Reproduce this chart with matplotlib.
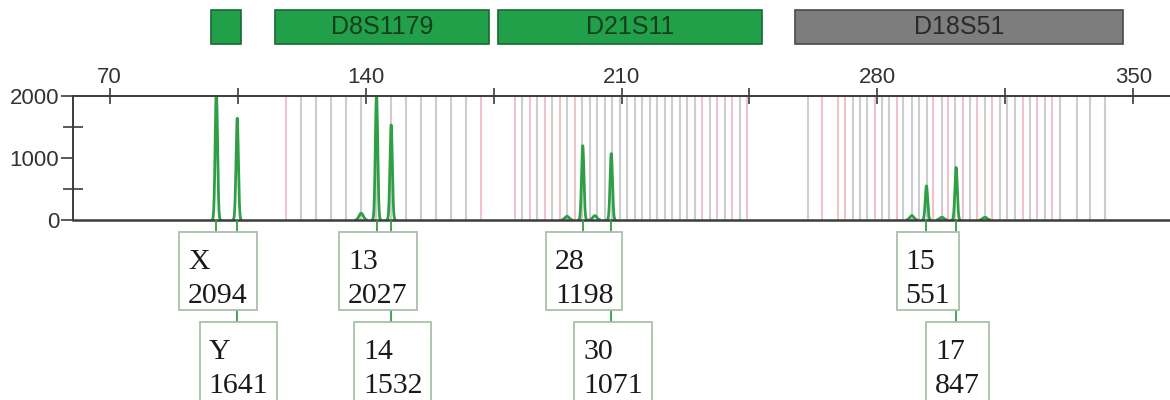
import numpy as np
import matplotlib
matplotlib.use("Agg")
import matplotlib.pyplot as plt
from matplotlib.patches import Rectangle
import matplotlib.transforms as mtransforms

# ---------------- data ----------------
marker_names = ["", "D8S1179", "D21S11", "D18S51"]
marker_starts = [97.7, 115.2, 176.2, 257.4]
marker_ends = [105.9, 173.7, 248.4, 347.1]
marker_kind = ["green", "green", "green", "gray"]

allele_labels = ["X", "Y", "13", "14", "28", "30", "15", "17"]
allele_sizes = [99.2, 104.9, 143.0, 147.0, 199.4, 207.2, 293.4, 301.5]
allele_heights = [2094, 1641, 2027, 1532, 1198, 1071, 551, 847]
label_rows = [0, 1, 0, 1, 0, 1, 0, 1]

minor_peak_sizes = [138.8, 195.1, 202.7, 289.4, 297.6, 309.4]
minor_peak_heights = [110, 60, 70, 70, 45, 45]

bins_d8 = [118.2, 122.3, 126.4, 130.5, 134.7, 138.8, 142.9, 147.0, 151.1,
           155.2, 159.3, 163.4, 167.5, 171.6]
bins_d8_pink = [1, 0, 0, 0, 0, 0, 0, 0, 0, 0, 0, 0, 0, 1]

bins_d21 = [180.9, 182.9, 185.0, 187.0, 189.1, 191.1, 193.2, 195.2, 197.3,
            199.3, 201.4, 203.4, 205.5, 207.5, 209.6, 211.6, 213.7, 215.7,
            217.8, 219.8, 221.9, 223.9, 226.0, 228.0, 230.1, 232.1, 234.2,
            236.2, 238.3, 240.3, 242.4, 244.4]
bins_d21_pink = [1, 0, 1, 0, 1, 0, 1, 0, 1, 0, 0, 0, 0, 0, 0, 0, 0, 0,
                 0, 0, 0, 0, 0, 0, 0, 1, 0, 1, 0, 1, 0, 1]

bins_d18 = [261.0, 264.8, 269.2, 271.1, 273.3, 275.2, 277.1, 279.3, 281.2,
            283.1, 285.3, 287.0, 289.4, 291.3, 293.5, 295.2, 297.6, 299.3,
            301.2, 303.4, 305.3, 307.2, 309.4, 311.3, 313.5, 315.4, 317.6,
            319.8, 321.7, 323.6, 325.8, 327.7, 329.9, 334.5, 338.1, 342.2]
bins_d18_pink = [0, 1, 1, 1, 0, 0, 0, 1, 0, 0, 1, 0, 0, 0, 0, 1, 0, 1,
                 0, 1, 0, 1, 0, 1, 0, 0, 0, 1, 0, 1, 0, 1, 0, 0, 0, 0]

x_major = [70, 140, 210, 280, 350]
x_minor = [105, 175, 245, 315]
y_major = [0, 1000, 2000]
y_minor = [500, 1500]

# ---------------- figure ----------------
W, H = 1170, 400
fig = plt.figure(figsize=(W / 100, H / 100), dpi=100)
fig.patch.set_facecolor("white")
left = 73 / W
ax = fig.add_axes([left, 1 - 220 / H, 1 - left, 124 / H])
ax.set_xlim(60, 360)
ax.set_ylim(0, 2000)

spine_c = "#3c3c3c"
for s in ["top", "left"]:
    ax.spines[s].set_color(spine_c)
    ax.spines[s].set_linewidth(1.4)
ax.spines["bottom"].set_color(spine_c)
ax.spines["bottom"].set_linewidth(1.8)
ax.spines["right"].set_visible(False)

ax.xaxis.tick_top()
ax.set_xticks(x_major)
ax.set_xticks(x_minor, minor=True)
ax.tick_params(axis="x", which="both", direction="inout", length=12, width=1.2,
               color=spine_c, labelsize=16, labelcolor="#333333", pad=0,
               bottom=False, top=True)
ax.set_yticks(y_major)
ax.set_yticks(y_minor, minor=True)
ax.tick_params(axis="y", which="major", direction="out", length=9, width=1.2,
               color=spine_c, labelsize=16, labelcolor="#333333", pad=1)
ax.tick_params(axis="y", which="minor", direction="inout", length=15, width=1.2,
               color=spine_c)
for lab in ax.get_xticklabels() + ax.get_yticklabels():
    lab.set_fontfamily("Liberation Sans")

# bin lines
gray_c = "#cdcdcd"
pink_c = "#f0c3c8"
for bins, pinks in [(bins_d8, bins_d8_pink), (bins_d21, bins_d21_pink),
                    (bins_d18, bins_d18_pink)]:
    for b, p in zip(bins, pinks):
        ax.axvline(b, color=pink_c if p else gray_c, lw=1.5, zorder=1)

# trace (baseline itself is the dark axis line)
green = "#2e9f45"
xs = np.linspace(60, 360, 15001)
ys = np.zeros_like(xs)
for s, h in zip(allele_sizes, allele_heights):
    ys += h * np.exp(-0.5 * ((xs - s) / 0.32) ** 2)
for s, h in zip(minor_peak_sizes, minor_peak_heights):
    ys += h * np.exp(-0.5 * ((xs - s) / 0.55) ** 2)
ys[ys < 4] = np.nan
ax.plot(xs, ys, color=green, lw=2.0, zorder=2)

# marker boxes on top
idt = mtransforms.IdentityTransform()
btrans = mtransforms.blended_transform_factory(ax.transData, idt)
fills = {"green": "#22a049", "gray": "#7d7d7d"}
edges = {"green": "#166b30", "gray": "#4a4a4a"}
tcols = {"green": "#133f1e", "gray": "#2a2a2a"}
for name, a, b, k in zip(marker_names, marker_starts, marker_ends, marker_kind):
    r = Rectangle((a, H - 44), b - a, 34, transform=btrans, facecolor=fills[k],
                  edgecolor=edges[k], lw=1.2, clip_on=False, zorder=3)
    ax.add_patch(r)
    if name:
        ax.text((a + b) / 2, H - 27, name, transform=btrans, ha="center",
                va="center", fontsize=18, family="Liberation Sans",
                color=tcols[k], clip_on=False, zorder=4)

# allele label boxes
fig.canvas.draw()
renderer = fig.canvas.get_renderer()
box_edge = "#aac0aa"
for lab, s, h, row in zip(allele_labels, allele_sizes, allele_heights, label_rows):
    px = ax.transData.transform((s, 0))[0]
    top_img = 232 if row == 0 else 322
    bot_img = 310 if row == 0 else 404
    # connector line
    ax.plot([px, px], [H - 221, H - top_img], transform=idt, color=green,
            lw=1.3, clip_on=False, zorder=3)
    t1 = ax.text(0, 0, lab, transform=idt, fontsize=21.5,
                 family="Liberation Serif", color="#1a1a1a", va="baseline",
                 ha="left", clip_on=False, zorder=6)
    t2 = ax.text(0, 0, str(h), transform=idt, fontsize=21.5,
                 family="Liberation Serif", color="#1a1a1a", va="baseline",
                 ha="left", clip_on=False, zorder=6)
    wtxt = max(t1.get_window_extent(renderer).width,
               t2.get_window_extent(renderer).width)
    bw = wtxt + 18
    bx = px + 1.5 - bw / 2
    rect = Rectangle((bx, H - bot_img), bw, bot_img - top_img, transform=idt,
                     facecolor="white", edgecolor=box_edge, lw=1.3,
                     clip_on=False, zorder=5)
    ax.add_patch(rect)
    t1.set_position((bx + 9, H - (top_img + 37)))
    t2.set_position((bx + 9, H - (top_img + 71)))

fig.savefig("out.png", dpi=100, facecolor="white")
